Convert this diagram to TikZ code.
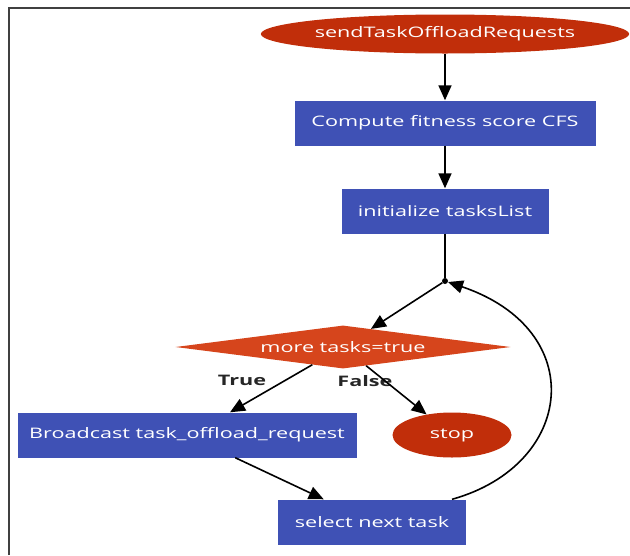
\documentclass[tikz,border=0pt]{standalone}
\usepackage{fontspec}
\usepackage{xcolor}
\newfontfamily\flowfont[FakeStretch=1.49]{Open Sans}
\usetikzlibrary{shapes.geometric,arrows.meta,positioning}

\definecolor{stepblue}{RGB}{63,81,181}
\definecolor{termred}{RGB}{193,46,10}
\definecolor{testorange}{RGB}{214,69,28}

\begin{document}
\begin{tikzpicture}[x=1pt,y=-1pt,
    every node/.style={font=\flowfont\fontsize{14.5}{16}\selectfont},
    stepbox/.style={rectangle, fill=stepblue, text=white, minimum height=45pt, inner sep=0pt},
    endcap/.style={ellipse, fill=termred, text=white, inner sep=0pt},
    test/.style={diamond, fill=testorange, text=white, inner sep=0pt, aspect=7.8,
        minimum width=335pt, minimum height=43pt},
    branch/.style={font=\flowfont\bfseries\fontsize{14.5}{16}\selectfont, text=black!85},
    flow/.style={-{Triangle[length=15pt,width=13pt]}, line width=1.6pt}]
    \useasboundingbox (0,0) rectangle (630,555);
    \draw[line width=2pt, black!75] (9,555) -- (9,8) -- (630,8);

    % steps
    \node[endcap, minimum width=355pt, minimum height=39pt] (send) at (445,34) {sendTaskOffloadRequests};
    \node[stepbox, minimum width=301pt] (cfs) at (445,123) {Compute fitness score CFS};
    \node[stepbox, minimum width=207pt] (init) at (445,211) {initialize tasksList};
    \node[circle, fill=black, inner sep=0pt, minimum size=6pt] (join) at (445,281) {};
    \node[test] (more) at (343,347) {more tasks=true};
    \node[stepbox, minimum width=339pt] (bcast) at (187,435) {Broadcast task\_offload\_request};
    \node[endcap, minimum width=119pt, minimum height=45pt] (stop) at (452,435) {stop};
    \node[stepbox, minimum width=188pt] (next) at (372,522) {select next task};
    \node[branch] (yes) at (242,380) {True};
    \node[branch] (no) at (365,381) {False};

    % connectors
    \draw[flow] (send) -- (cfs);
    \draw[flow] (cfs) -- (init);
    \draw[line width=1.6pt] (init) -- (join);
    \draw[flow] (join) -- (more);
    \draw[flow] (more) -- ([xshift=43pt]bcast.north);
    \draw[flow] (more) -- (stop);
    \draw[flow] (bcast) -- (next);
    \draw[flow] ([xshift=80pt]next.north) .. controls (575,465) and (590,330) .. (join);
\end{tikzpicture}
\end{document}
